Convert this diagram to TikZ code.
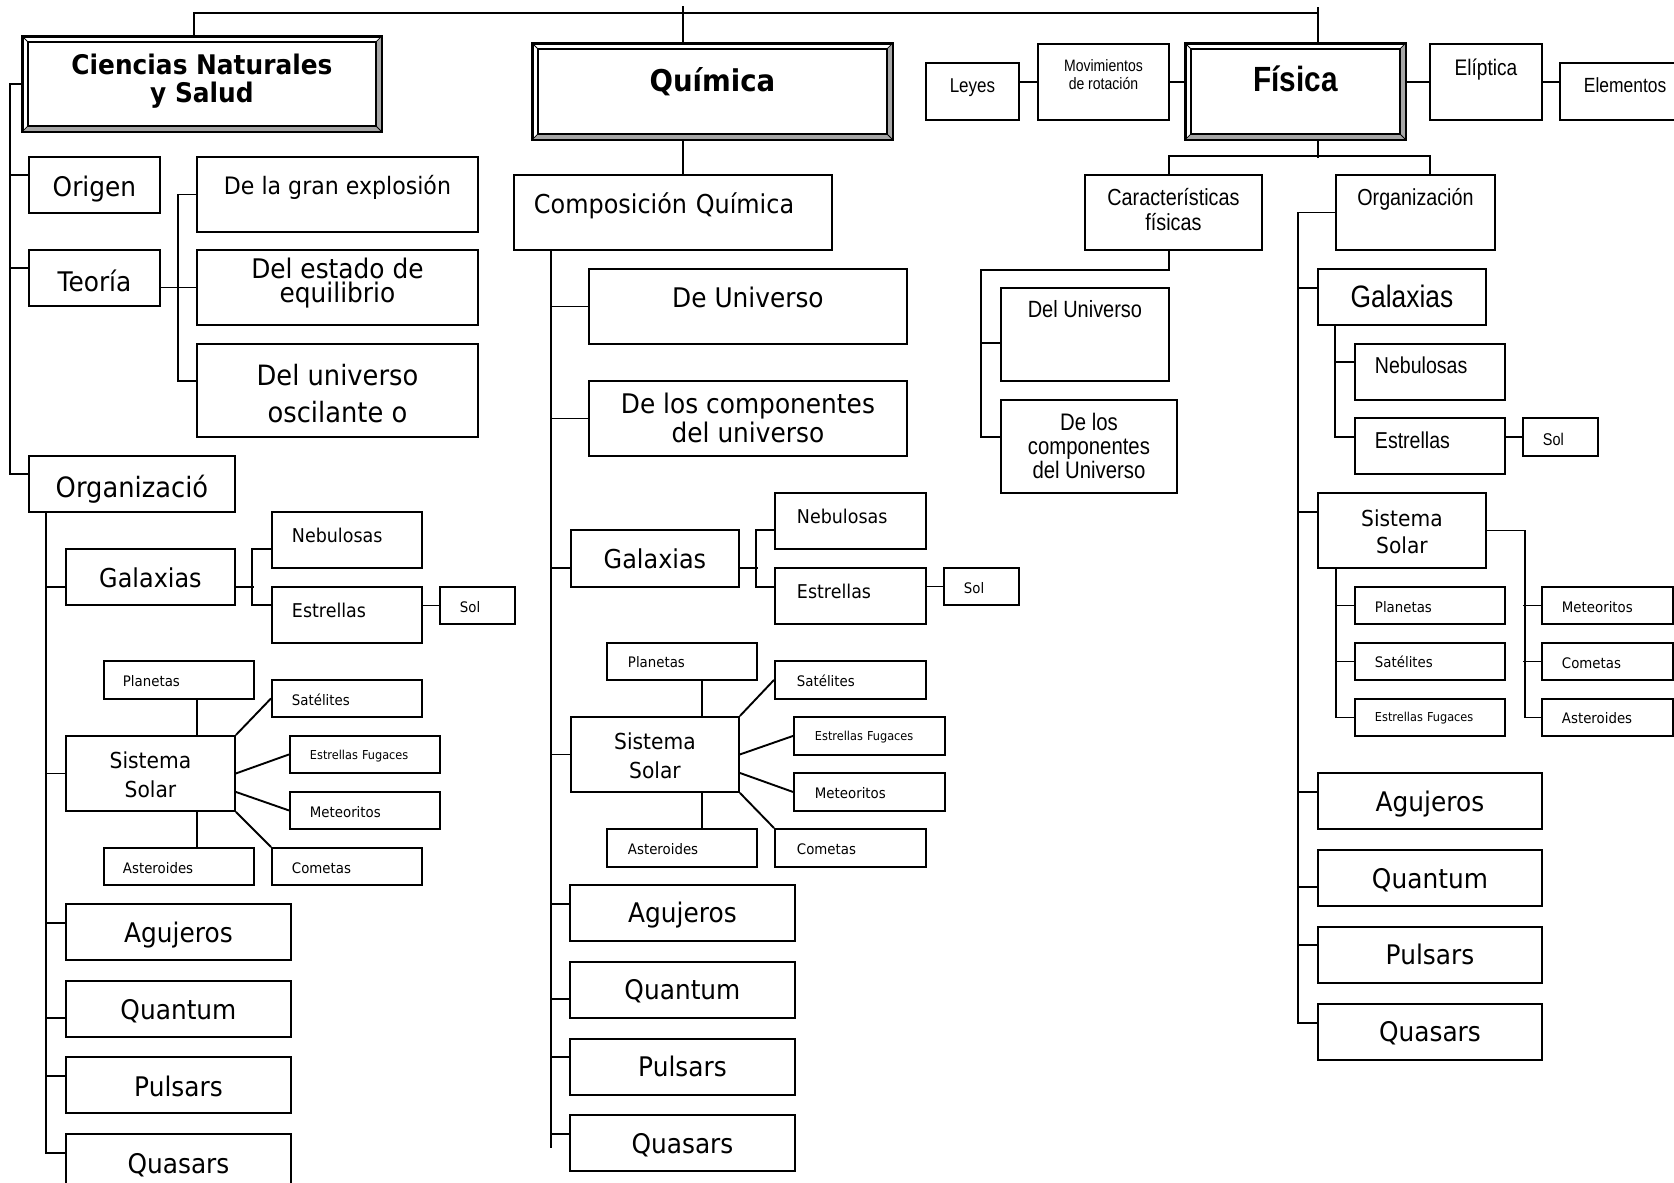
\documentclass[tikz,border=0pt]{standalone}
\usepackage{fontspec}
\usetikzlibrary{positioning}
\newfontfamily\tah[FakeStretch=0.92]{DejaVu Sans}
\newfontfamily\nar[FakeStretch=0.85]{Liberation Sans}
\newcommand\fs[2]{\fontsize{#1}{#2}\selectfont}
\newcommand\bevel[1]{%
\fill[gray!70] (#1.south west) -- (#1.south east) -- (#1.north east)
	-- ([shift={(-6,6)}]#1.north east) -- ([shift={(-6,-6)}]#1.south east)
	-- ([shift={(6,-6)}]#1.south west) -- cycle;
\draw[line width=1.4pt] (#1.north west) rectangle (#1.south east);
\draw ([shift={(6,6)}]#1.north west) rectangle ([shift={(-6,-6)}]#1.south east);
\draw[line width=0.8pt] (#1.north west) -- ([shift={(6,6)}]#1.north west)
	(#1.north east) -- ([shift={(-6,6)}]#1.north east)
	(#1.south east) -- ([shift={(-6,-6)}]#1.south east)
	(#1.south west) -- ([shift={(6,-6)}]#1.south west);
}

\begin{document}
\begin{tikzpicture}[x=1pt, y=-1pt, line width=1.9pt,
box/.style={draw, inner sep=0pt, anchor=north west, align=center},
lbox/.style={box, align=left, text width=#1},
sz/.style 2 args={minimum width=#1, minimum height=#2},
sink/.style={text height=#1, text depth=0pt},
lift/.style={text height=0pt, text depth=#1},
tbig/.style={font=\tah\fs{27}{29}},
tmid/.style={font=\tah\fs{19}{22}},
tsmall/.style={font=\tah\fs{14.5}{17}},
ttiny/.style={font=\tah\fs{12.3}{14}},
tss/.style={font=\tah\fs{22}{29}},
nmid/.style={font=\nar\fs{23}{25}}]

\useasboundingbox[fill=white] (0,0) rectangle (1674,1183);

%left column
\node (cns) [box, sz={358pt}{94pt}, font=\tah\bfseries\fs{27}{28}, sink=38pt] at (22,36) {Ciencias Naturales\\y Salud};
\bevel{cns}
\node (origen) [box, sz={131pt}{56pt}, tbig, sink=24pt] at (28,156) {Origen};
\node (teoria) [box, sz={131pt}{56pt}, tbig, sink=27pt] at (28,249) {Teoría};
\node (explos) [box, sz={281pt}{75pt}, font=\tah\fs{24}{26}, sink=0pt] at (196,156) {De la gran explosión};
\node (equil) [box, sz={281pt}{75pt}, font=\tah\fs{27}{24}, sink=31pt] at (196,249) {Del estado de\\equilibrio};
\node (oscil) [box, sz={281pt}{93pt}, font=\tah\fs{28}{37}, sink=65pt] at (196,343) {Del universo\\oscilante o};
\node (org) [box, sz={206pt}{56pt}, font=\tah\fs{28}{30}, sink=28pt] at (28,455) {Organizació};
\node (galL) [box, sz={169pt}{56pt}, font=\tah\fs{26}{28}, sink=22pt] at (65,548) {Galaxias};
\node (nebL) [lbox=110pt, sz={150pt}{56pt}, tmid, sink=6pt] at (271,511) {Nebulosas};
\node (estL) [lbox=110pt, sz={150pt}{56pt}, tmid, sink=6pt] at (271,586) {Estrellas};
\node (solL) [lbox=35pt, sz={75pt}{37pt}, tsmall, sink=15pt] at (439,586) {Sol};
\node (ssL) [box, sz={169pt}{75pt}, tss, sink=49pt] at (65,735) {Sistema\\Solar};
\node (planL) [lbox=112pt, sz={150pt}{38pt}, tsmall, sink=14pt] at (103,660) {Planetas};
\node (satL) [lbox=110pt, sz={150pt}{37pt}, tsmall, sink=15pt] at (271,679) {Satélites};
\node (efL) [lbox=110pt, sz={150pt}{37pt}, ttiny, sink=11pt] at (289,735) {Estrellas Fugaces};
\node (metL) [lbox=110pt, sz={150pt}{37pt}, tsmall, sink=15pt] at (289,791) {Meteoritos};
\node (comL) [lbox=110pt, sz={150pt}{37pt}, tsmall, sink=15pt] at (271,847) {Cometas};
\node (astL) [lbox=112pt, sz={150pt}{37pt}, tsmall, sink=15pt] at (103,847) {Asteroides};
\node (aguL) [box, sz={225pt}{56pt}, tbig, sink=22pt] at (65,903) {Agujeros};
\node (qtmL) [box, sz={225pt}{56pt}, tbig, sink=22pt, below=19pt of aguL] {Quantum};
\node (pulL) [box, sz={225pt}{56pt}, tbig, sink=24pt, below=18pt of qtmL] {Pulsars};
\node (qsrL) [box, sz={225pt}{53pt}, tbig, sink=27pt, below=19pt of pulL] {Quasars};

%middle column
\node (quim) [box, sz={359pt}{95pt}, font=\tah\bfseries\fs{30}{32}, sink=0pt] at (532,43) {Química};
\bevel{quim}
\node (cq) [lbox=278pt, sz={318pt}{75pt}, font=\tah\fs{26}{28}, sink=3pt] at (513,174) {Composición Química};
\node (deuniv) [box, sz={318pt}{75pt}, tbig, sink=3pt] at (588,268) {De Universo};
\node (decomp) [box, sz={318pt}{75pt}, tbig, sink=49pt] at (588,380) {De los componentes\\del universo};
\node (galQ) [box, sz={168pt}{57pt}, font=\tah\fs{26}{28}, sink=21pt] at (570,529) {Galaxias};
\node (nebQ) [lbox=107pt, sz={151pt}{56pt}, tmid, sink=6pt] at (774,492) {Nebulosas};
\node (estQ) [lbox=107pt, sz={151pt}{56pt}, tmid, sink=6pt] at (774,567) {Estrellas};
\node (solQ) [lbox=35pt, sz={75pt}{37pt}, tsmall, sink=15pt] at (943,567) {Sol};
\node (ssQ) [box, sz={168pt}{75pt}, tss, sink=49pt] at (570,716) {Sistema\\Solar};
\node (planQ) [lbox=108pt, sz={150pt}{37pt}, tsmall, sink=13pt] at (606,642) {Planetas};
\node (satQ) [lbox=107pt, sz={151pt}{38pt}, tsmall, sink=14pt] at (774,660) {Satélites};
\node (efQ) [lbox=109pt, sz={151pt}{38pt}, ttiny, sink=10pt] at (793,716) {Estrellas Fugaces};
\node (metQ) [lbox=109pt, sz={151pt}{38pt}, tsmall, sink=14pt] at (793,772) {Meteoritos};
\node (comQ) [lbox=107pt, sz={151pt}{38pt}, tsmall, sink=14pt] at (774,828) {Cometas};
\node (astQ) [lbox=108pt, sz={150pt}{38pt}, tsmall, sink=14pt] at (606,828) {Asteroides};
\node (aguQ) [box, sz={225pt}{56pt}, tbig, sink=20pt] at (569,884) {Agujeros};
\node (qtmQ) [box, sz={225pt}{56pt}, tbig, sink=20pt, below=19pt of aguQ] {Quantum};
\node (pulQ) [box, sz={225pt}{56pt}, tbig, sink=20pt, below=19pt of qtmQ] {Pulsars};
\node (qsrQ) [box, sz={225pt}{56pt}, tbig, sink=22pt, below=18pt of pulQ] {Quasars};

%right column
\node (fis) [box, sz={219pt}{95pt}, font=\nar\bfseries\fs{35}{37}, sink=0pt] at (1185,43) {Física};
\bevel{fis}
\node (leyes) [box, sz={93pt}{57pt}, font=\nar\fs{20}{22}, sink=3pt] at (925,62) {Leyes};
\node (movi) [box, sz={131pt}{76pt}, font=\nar\fs{16.5}{18}, sink=16pt] at (1037,43) {Movimientos\\de rotación};
\node (elip) [box, sz={112pt}{76pt}, font=\nar\fs{22.5}{24}, lift=12pt] at (1429,43) {Elíptica};
\node (elem) [lbox=84pt, sz={132pt}{57pt}, font=\nar\fs{20.5}{22}, sink=3pt] at (1559,62) {Elementos};
\node (car) [box, sz={177pt}{75pt}, font=\nar\fs{23.3}{25}, sink=37pt] at (1084,174) {Características\\físicas};
\node (orgF) [box, sz={159pt}{75pt}, font=\nar\fs{23.2}{25}, lift=13pt] at (1335,174) {Organización};
\node (deluF) [box, sz={168pt}{93pt}, font=\nar\fs{23.5}{25}, lift=33pt] at (1000,287) {Del Universo};
\node (delcF) [box, sz={176pt}{93pt}, font=\nar\fs{23.9}{24}, sink=65pt] at (1000,399) {De los\\componentes\\del Universo};
\node (galF) [box, sz={168pt}{56pt}, font=\nar\fs{31}{33}, sink=22pt] at (1317,268) {Galaxias};
\node (nebF) [lbox=110pt, sz={150pt}{56pt}, nmid, sink=4pt] at (1354,343) {Nebulosas};
\node (estF) [lbox=110pt, sz={150pt}{56pt}, nmid, sink=6pt] at (1354,417) {Estrellas};
\node (solF) [lbox=35pt, sz={75pt}{38pt}, font=\nar\fs{17}{19}, sink=18pt] at (1522,417) {Sol};
\node (ssF) [box, sz={168pt}{75pt}, font=\tah\fs{22}{27}, sink=47pt] at (1317,492) {Sistema\\Solar};
\node (planF) [lbox=110pt, sz={150pt}{37pt}, tsmall, sink=15pt] at (1354,586) {Planetas};
\node (satF) [lbox=110pt, sz={150pt}{37pt}, tsmall, sink=13pt] at (1354,642) {Satélites};
\node (efF) [lbox=110pt, sz={150pt}{37pt}, ttiny, sink=9pt] at (1354,698) {Estrellas Fugaces};
\node (metF) [lbox=91pt, sz={131pt}{37pt}, tsmall, sink=15pt] at (1541,586) {Meteoritos};
\node (comF) [lbox=91pt, sz={131pt}{37pt}, tsmall, sink=15pt] at (1541,642) {Cometas};
\node (astF) [lbox=91pt, sz={131pt}{37pt}, tsmall, sink=13pt] at (1541,698) {Asteroides};
\node (aguF) [box, sz={224pt}{56pt}, tbig, sink=22pt] at (1317,772) {Agujeros};
\node (qtmF) [box, sz={224pt}{56pt}, tbig, sink=22pt, below=19pt of aguF] {Quantum};
\node (pulF) [box, sz={224pt}{56pt}, tbig, sink=20pt, below=19pt of qtmF] {Pulsars};
\node (qsrF) [box, sz={224pt}{56pt}, tbig, sink=20pt, below=19pt of pulF] {Quasars};

%top bar
\draw ([xshift=-8pt]cns.north) -- ++(0,-23) -| ([xshift=22.5pt]fis.north);
\draw ([xshift=22.5pt]fis.north) -- ++(0,-36);
\draw ([xshift=-29.5pt]quim.north) -- ++(0,-37);

%lines for the left column
\draw (cns.west) -- ++(-12,0) |- ([yshift=10pt]org.west);
\draw ([yshift=10pt]origen.west) -- ++(-18,0);
\draw ([yshift=10pt]teoria.west) -- ++(-18,0);
\draw (teoria.east |- equil.west) -- (equil.west);
\draw (explos.west) -- ++(-18,0) |- ([yshift=9.5pt]oscil.west);
\draw ([xshift=18pt]org.south west) |- ([yshift=7.5pt]qsrL.west);
\draw ([yshift=-10pt]galL.west) -- ++(-19,0);
\draw (ssL.west) -- ++(-19,0);
\draw ([yshift=9pt]aguL.west) -- ++(-19,0);
\draw ([yshift=-9pt]qtmL.west) -- ++(-19,0);
\draw ([yshift=9pt]pulL.west) -- ++(-19,0);
\draw ([yshift=-10pt]galL.east) -- ++(18,0);
\draw ([yshift=-9pt]nebL.west) -- ++(-19,0) |- ([yshift=10pt]estL.west);
\draw (solL.west) -- (solL.west -| estL.east);
\draw ([xshift=18pt]planL.south) -- ++(0,37);
\draw ([xshift=18pt]astL.north) -- ++(0,-37);
\draw (ssL.north east) -- (satL.west);
\draw (ssL.east) -- (efL.west);
\draw ([yshift=-18.5pt]ssL.east) -- (metL.west);
\draw (ssL.south east) -- (comL.north west);

%lines for the middle column
\draw ([xshift=-29.5pt]quim.south) -- ++(0,36);
\draw ([xshift=38pt]cq.south west) -- ++(0,897);
\draw (deuniv.west) -- ++(-37,0);
\draw (decomp.west) -- ++(-37,0);
\draw ([yshift=-9.5pt]galQ.west) -- ++(-19,0);
\draw (ssQ.west) -- ++(-19,0);
\draw ([yshift=9pt]aguQ.west) -- ++(-18,0);
\draw ([yshift=-9pt]qtmQ.west) -- ++(-18,0);
\draw ([yshift=10pt]pulQ.west) -- ++(-18,0);
\draw ([yshift=9pt]qsrQ.west) -- ++(-18,0);
\draw ([yshift=-9.5pt]galQ.east) -- ++(18,0);
\draw ([yshift=-9pt]nebQ.west) -- ++(-18,0) |- ([yshift=9pt]estQ.west);
\draw (solQ.west) -- (solQ.west -| estQ.east);
\draw ([xshift=20pt]planQ.south) -- ++(0,37);
\draw ([xshift=20pt]astQ.north) -- ++(0,-37);
\draw (ssQ.north east) -- (satQ.west);
\draw (ssQ.east) -- (efQ.west);
\draw ([yshift=-18.5pt]ssQ.east) -- (metQ.west);
\draw (ssQ.south east) -- (comQ.north west);

%lines for the right column
\draw (movi.west) -- (movi.west -| leyes.east);
\draw (movi.east) -- (movi.east -| fis.west);
\draw (elip.west) -- (elip.west -| fis.east);
\draw (elip.east) -- (elip.east -| elem.west);
\draw ([xshift=22.5pt]fis.south) -- ++(0,18);
\draw ([xshift=-4.5pt]car.north) -- ++(0,-18) -| ([xshift=14.5pt]orgF.north);
\draw ([xshift=-4.5pt]car.south) -- ++(0,19) -- ++(-188,0) |- ([yshift=9.5pt]delcF.west);
\draw ([yshift=-8.5pt]deluF.west) -- ++(-20,0);
\draw (orgF.west) -- ++(-37,0) |- ([yshift=9pt]qsrF.west);
\draw ([yshift=9pt]galF.west) -- ++(-19,0);
\draw ([yshift=18.5pt]ssF.west) -- ++(-19,0);
\draw ([yshift=9pt]aguF.west) -- ++(-19,0);
\draw ([yshift=-9pt]qtmF.west) -- ++(-19,0);
\draw ([yshift=10pt]pulF.west) -- ++(-19,0);
\draw ([xshift=18pt]galF.south west) |- ([yshift=9pt]estF.west);
\draw ([yshift=10pt]nebF.west) -- ++(-19,0);
\draw (solF.west) -- (solF.west -| estF.east);
\draw (ssF.east) -- ++(38,0) |- (astF.west);
\draw (metF.west) -- ++(-18,0);
\draw (comF.west) -- ++(-18,0);
\draw ([xshift=19pt]ssF.south west) |- (efF.west);
\draw (planF.west) -- ++(-18,0);
\draw (satF.west) -- ++(-18,0);

\end{tikzpicture}
\end{document}
